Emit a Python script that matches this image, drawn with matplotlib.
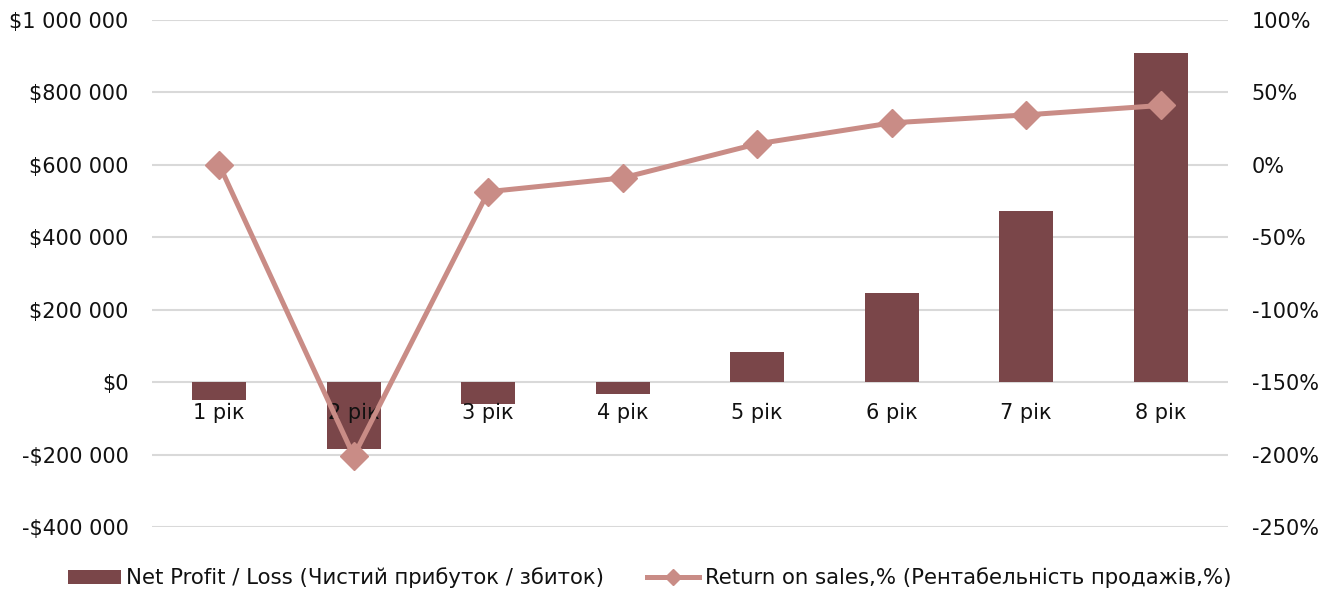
import matplotlib
matplotlib.use("Agg")
import matplotlib.pyplot as plt
from matplotlib.ticker import FuncFormatter, MultipleLocator
from matplotlib.lines import Line2D
from matplotlib.patches import Patch

categories = ["1 рік", "2 рік", "3 рік", "4 рік", "5 рік", "6 рік", "7 рік", "8 рік"]
net_profit = [-50000, -185000, -61000, -33000, 82000, 245000, 472000, 910000]
return_on_sales = [0.0, -201.0, -18.5, -9.0, 14.5, 29.0, 34.5, 41.0]

bar_color = "#7a4649"
line_color = "#c98c86"
grid_color = "#d9d9d9"
text_color = "#111111"

plt.rcParams["font.family"] = ["DejaVu Sans"]
plt.rcParams["font.size"] = 15
plt.rcParams["text.color"] = text_color
plt.rcParams["xtick.color"] = text_color
plt.rcParams["ytick.color"] = text_color

fig = plt.figure(figsize=(13.39, 5.95), dpi=100)
ax = fig.add_axes([152 / 1339, 1 - 527 / 595, (1228 - 152) / 1339, (527 - 20) / 595])
ax2 = ax.twinx()

x = list(range(len(categories)))
ax.bar(x, net_profit, width=0.4, color=bar_color, zorder=2)
ax.set_xlim(-0.5, len(categories) - 0.5)
ax.set_ylim(-400000, 1000000)
ax.yaxis.set_major_locator(MultipleLocator(200000))


def money(v, _):
    s = f"{abs(int(round(v))):,}".replace(",", " ")
    return ("-$" if v < 0 else "$") + s


ax.yaxis.set_major_formatter(FuncFormatter(money))
ax.grid(axis="y", color=grid_color, linewidth=1.5, zorder=0)
ax.set_axisbelow(True)
for sp in ax.spines.values():
    sp.set_visible(False)
ax.set_xticks([])
ax.tick_params(axis="y", length=0, pad=17)

# category labels sit just below the zero line, above the bars
for xi, name in zip(x, categories):
    ax.annotate(name, xy=(xi, 0), xytext=(0, -22), textcoords="offset points",
                ha="center", va="center", zorder=5)

ax2.plot(x, return_on_sales, color=line_color, linewidth=3.6, marker="D",
         markersize=14, zorder=3)
ax2.set_ylim(-250, 100)
ax2.yaxis.set_major_locator(MultipleLocator(50))
ax2.yaxis.set_major_formatter(FuncFormatter(lambda v, _: f"{int(v)}%"))
ax2.tick_params(axis="y", length=0, pad=17)
for sp in ax2.spines.values():
    sp.set_visible(False)

handles = [
    Patch(facecolor=bar_color, label="Net Profit / Loss (Чистий прибуток / збиток)"),
    Line2D([0], [0], color=line_color, linewidth=3.6, marker="D", markersize=8,
           label="Return on sales,% (Рентабельність продажів,%)"),
]
fig.legend(handles=handles, loc="center", bbox_to_anchor=(650 / 1339, 1 - 578 / 595),
           ncol=2, frameon=False, handlelength=2.45, handleheight=0.66,
           handletextpad=0.28, columnspacing=2.0, fontsize=15.3)

fig.savefig("out.png", dpi=100)
